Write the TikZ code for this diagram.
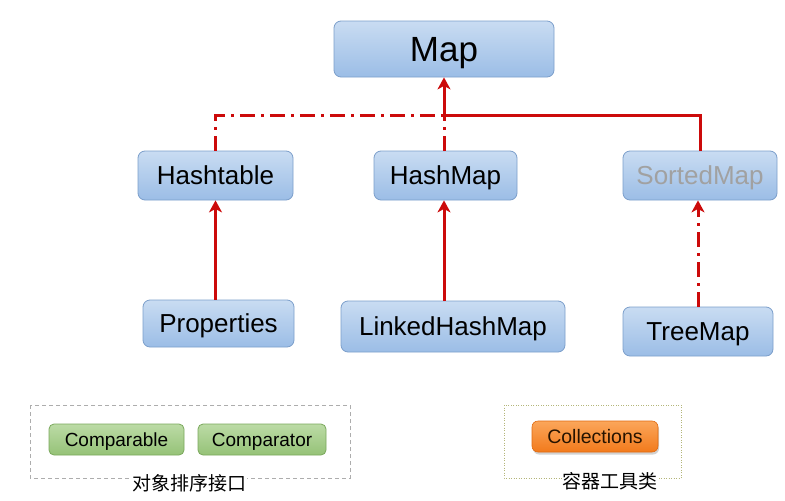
\documentclass[tikz,border=0pt]{standalone}
\usepackage{fontspec}
\setmainfont{Liberation Sans}
\newfontfamily\cjk{Noto Sans CJK SC}
\usepackage{tikz}
\usetikzlibrary{arrows.meta,shadows}
\definecolor{mapblueT}{HTML}{C9DCF2}
\definecolor{mapblueB}{HTML}{9BBDE6}
\definecolor{mapline}{HTML}{7C9FCB}
\definecolor{cmpgreenT}{HTML}{BCDBA6}
\definecolor{cmpgreenB}{HTML}{95C277}
\definecolor{cmpline}{HTML}{7AA85C}
\definecolor{colorangeT}{HTML}{FBA65A}
\definecolor{colorangeB}{HTML}{F27A1C}
\definecolor{colline}{HTML}{E06A10}
\definecolor{linkred}{HTML}{CC0A0A}
\definecolor{grouppale}{HTML}{8A8A8A}
\definecolor{groupolive}{HTML}{B4B67A}
\tikzset{
  cbox/.style={rectangle,rounded corners=7pt,draw=mapline,line width=0.8pt,top color=mapblueT,bottom color=mapblueB,inner sep=0pt,text height=18.6pt,text depth=0pt,font=\fontsize{26}{30}\selectfont},
  gbox/.style={rectangle,rounded corners=5pt,draw=cmpline,line width=0.8pt,top color=cmpgreenT,bottom color=cmpgreenB,inner sep=0pt,text height=13.6pt,text depth=0pt,font=\fontsize{19}{22}\selectfont},
  obox/.style={rectangle,rounded corners=6pt,draw=colline,line width=0.6pt,top color=colorangeT,bottom color=colorangeB,inner sep=0pt,text height=14pt,text depth=0pt,text=black!85!orange,font=\fontsize{19.5}{22}\selectfont,drop shadow={shadow xshift=1pt,shadow yshift=-2.5pt,opacity=0.35}},
  redge/.style={linkred,line width=3pt},
  ddedge/.style={linkred,line width=3pt,dash pattern=on 15pt off 6pt on 3pt off 6pt},
  rtip/.style={-{Stealth[length=12pt,width=13pt,inset=3.5pt]}},
  glabel/.style={font=\cjk\fontsize{19}{22}\selectfont}
}
\begin{document}
\begin{tikzpicture}[x=1pt,y=-1pt]
\useasboundingbox[fill=white] (0,0) rectangle (785,501);
% class boxes
\node[cbox,minimum width=220pt,minimum height=56pt,text height=25pt,font=\fontsize{35}{40}\selectfont] (map) at (444,49) {Map};
\node[cbox,minimum width=155pt,minimum height=49pt] (hashtable) at (215.5,175.5) {Hashtable};
\node[cbox,minimum width=143pt,minimum height=49pt] (hashmap) at (445.5,175.5) {HashMap};
\node[cbox,minimum width=154pt,minimum height=49pt,text=grouppale!80] (sortedmap) at (700,175.5) {SortedMap};
\node[cbox,minimum width=151pt,minimum height=47pt] (properties) at (218.5,323.5) {Properties};
\node[cbox,minimum width=224pt,minimum height=51pt] (linkedhashmap) at (453,326.5) {LinkedHashMap};
\node[cbox,minimum width=150pt,minimum height=49pt] (treemap) at (698,331.5) {TreeMap};
% junction on the bus line
\coordinate (bus) at (444,115);
\coordinate (busL) at (hashtable.north |- bus);
\coordinate (busR) at (sortedmap.north |- bus);
\draw[ddedge] (hashtable.north) -- (busL) -- (bus);
\draw[ddedge] (hashmap.north -| bus) -- (bus);
\draw[redge] (sortedmap.north) -- (busR) -- (bus);
\draw[redge,rtip] (bus) -- (map.south -| bus);
% sub classes
\draw[redge,rtip] (properties.north -| busL) -- (hashtable.south -| busL);
\draw[redge,rtip] (linkedhashmap.north -| bus) -- (hashmap.south -| bus);
\draw[ddedge,rtip] (treemap.north) -- (treemap.north |- sortedmap.south);
% sorting interfaces
\draw[grouppale!70,line width=1pt,dash pattern=on 4pt off 3pt] (30,405) rectangle (350,478);
\node[gbox,minimum width=135pt,minimum height=31pt] (comparable) at (116.5,439.5) {Comparable};
\node[gbox,minimum width=128pt,minimum height=31pt] (comparator) at (262,439.5) {Comparator};
\node[glabel,fill=white,inner sep=1pt] (sortlbl) at (189,483) {对象排序接口};
% utility class
\draw[groupolive,line width=0.8pt,dash pattern=on 1pt off 1.5pt] (504,405) rectangle (681,478);
\node[obox,minimum width=126pt,minimum height=31pt] (collections) at (595,436.5) {Collections};
\node[glabel,fill=white,inner sep=1pt] (utillbl) at (610,481) {容器工具类};
\end{tikzpicture}
\end{document}
